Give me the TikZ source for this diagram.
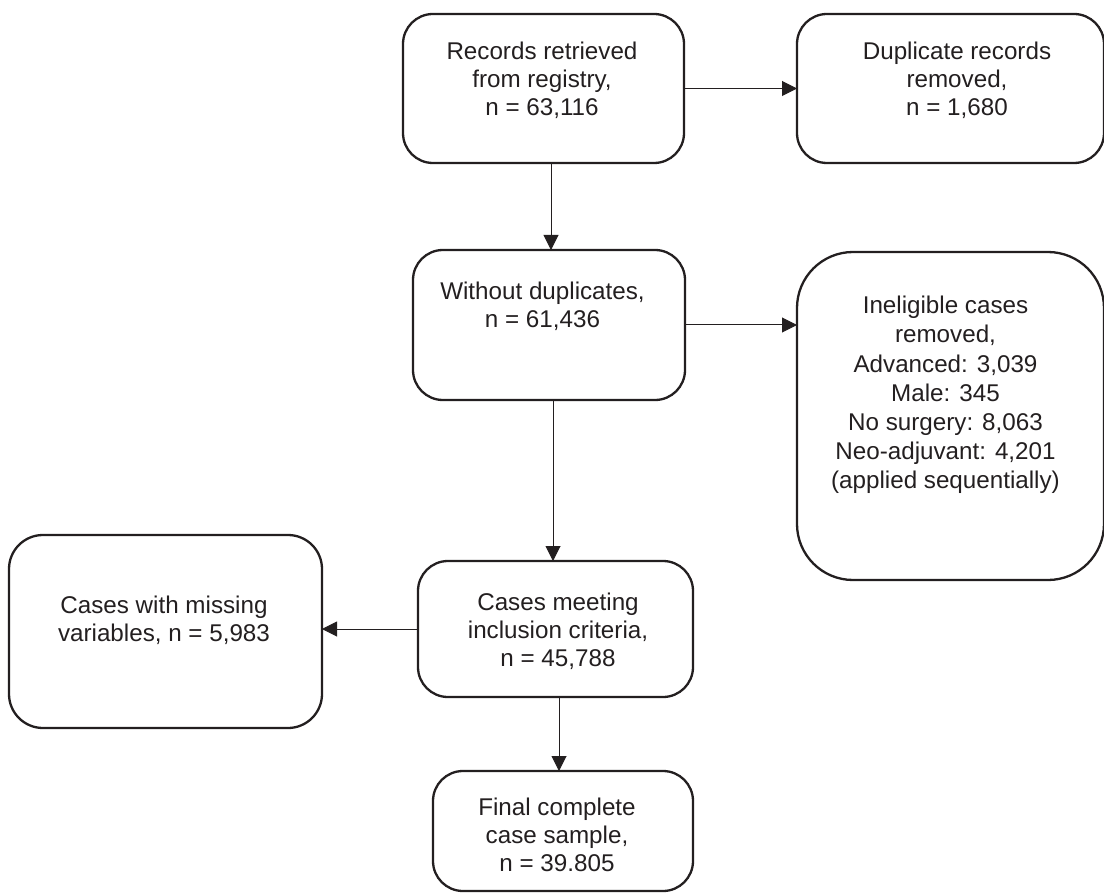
\documentclass[tikz,border=0pt]{standalone}
\usepackage{fontspec}
\setmainfont{Liberation Sans}
\usetikzlibrary{arrows.meta}
\definecolor{ink}{HTML}{231F20}
\begin{document}
\begin{tikzpicture}[x=1pt,y=-1pt,
  box/.style={draw=ink, line width=2.3pt, rounded corners=30pt, inner sep=0pt, outer sep=0pt},
  txt/.style={text=ink, align=center, inner sep=0pt, font=\fontsize{24.2}{28}\selectfont},
  arr/.style={draw=ink, line width=1pt, -{Triangle[length=15pt,width=15pt]}},
  ln/.style={draw=ink, line width=1pt}]
\useasboundingbox (0,0) rectangle (1104,896);
% boxes
\node[box, minimum width=281, minimum height=149] (a) at (543.5,88.5) {};
\node[box, minimum width=307, minimum height=149] (b) at (950.5,88.5) {};
\node[box, minimum width=272, minimum height=150] (c) at (549,325) {};
\node[box, rounded corners=56pt, minimum width=307, minimum height=328] (e) at (950.5,416) {};
\node[box, minimum width=275, minimum height=136] (d) at (555.5,629) {};
\node[box, rounded corners=34pt, minimum width=313, minimum height=193] (f) at (165.5,631.5) {};
\node[box, minimum width=260, minimum height=120] (g) at (563,831) {};
% texts
\node[txt] (at) at (542,80) {Records retrieved\\from registry,\\n = 63,116};
\node[txt] (bt) at (957,80) {Duplicate records\\removed,\\n = 1,680};
\node[txt] (ct) at (542.5,306) {Without duplicates,\\n = 61,436};
\node[txt, font=\fontsize{24.2}{29.2}\selectfont] (et) at (945.5,395) {Ineligible cases\\removed,\\Advanced: 3,039\\Male: 345\\No surgery: 8,063\\Neo-adjuvant: 4,201\\(applied sequentially)};
\node[txt] (ft) at (164,620) {Cases with missing\\variables, n = 5,983};
\node[txt] (dt) at (558,631) {Cases meeting\\inclusion criteria,\\n = 45,788};
\node[txt] (gt) at (557,835) {Final complete\\case sample,\\n = 39.805};
% connectors
\draw[arr] (a.east) -- (b.west);
\draw[arr] ([xshift=7.5pt]a.south) -- ([xshift=7.5pt]a.south |- c.north);
\draw[arr] (c.east) -- (c.east -| e.west);
\draw[arr] ([xshift=4pt]c.south) -- ([xshift=4pt]c.south |- d.north);
\draw[arr] (d.west) -- (d.west -| f.east);
\draw[arr] ([xshift=3.5pt]d.south) -- ([xshift=3.5pt]d.south |- g.north);
\end{tikzpicture}
\end{document}
